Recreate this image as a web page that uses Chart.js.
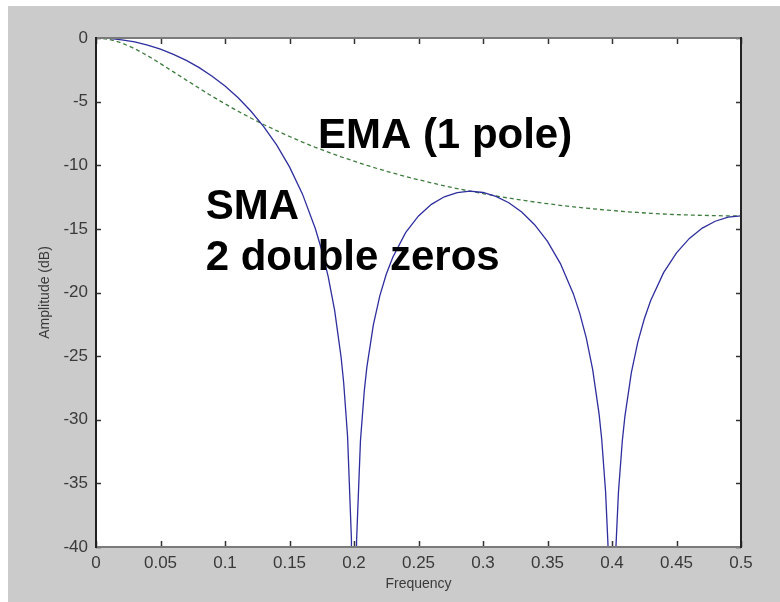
<!DOCTYPE html>
<html>
<head>
<meta charset="utf-8">
<script src="https://cdn.jsdelivr.net/npm/chart.js@4"></script>
<style>
  html, body { margin: 0; padding: 0; background: #fff; }
  canvas { display: block; }
</style>
</head>
<body>
<canvas id="freqChart" width="780" height="602"></canvas>
<script>
// magnitude responses (dB)
const smaFreq = [0, 0.01, 0.02, 0.03, 0.04, 0.05, 0.06, 0.07, 0.08, 0.09, 0.1, 0.11, 0.12, 0.13, 0.14, 0.15, 0.16, 0.17, 0.175, 0.18, 0.185, 0.19, 0.192, 0.195, 0.198, 0.2, 0.202, 0.205, 0.208, 0.21, 0.215, 0.22, 0.225, 0.23, 0.24, 0.25, 0.26, 0.27, 0.28, 0.29, 0.3, 0.31, 0.32, 0.33, 0.34, 0.35, 0.36, 0.37, 0.375, 0.38, 0.385, 0.39, 0.392, 0.395, 0.397, 0.4, 0.403, 0.405, 0.408, 0.41, 0.415, 0.42, 0.425, 0.43, 0.44, 0.45, 0.46, 0.47, 0.48, 0.49, 0.5];
const smaDb = [0, -0.03, -0.14, -0.31, -0.56, -0.88, -1.28, -1.76, -2.33, -3.0, -3.78, -4.68, -5.74, -6.96, -8.4, -10.13, -12.25, -14.97, -16.68, -18.76, -21.41, -25.09, -27.09, -31.28, -39.35, -80, -39.5, -31.66, -27.7, -25.84, -22.54, -20.27, -18.57, -17.25, -15.3, -13.98, -13.07, -12.48, -12.15, -12.04, -12.14, -12.44, -12.95, -13.68, -14.67, -15.99, -17.73, -20.09, -21.64, -23.55, -26.04, -29.56, -31.51, -35.61, -40.06, -80, -40.11, -35.69, -31.65, -29.74, -26.3, -23.9, -22.08, -20.63, -18.44, -16.88, -15.75, -14.94, -14.4, -14.08, -13.98];

const emaFreq = [0, 0.01, 0.02, 0.03, 0.04, 0.05, 0.06, 0.07, 0.08, 0.09, 0.1, 0.11, 0.12, 0.13, 0.14, 0.15, 0.16, 0.17, 0.18, 0.19, 0.2, 0.21, 0.22, 0.23, 0.24, 0.25, 0.26, 0.27, 0.28, 0.29, 0.3, 0.31, 0.32, 0.33, 0.34, 0.35, 0.36, 0.37, 0.38, 0.39, 0.4, 0.41, 0.42, 0.43, 0.44, 0.45, 0.46, 0.47, 0.48, 0.49, 0.5];
const emaDb = [0, -0.1, -0.39, -0.84, -1.39, -2.01, -2.66, -3.31, -3.95, -4.58, -5.17, -5.75, -6.29, -6.8, -7.28, -7.74, -8.18, -8.59, -8.97, -9.34, -9.68, -10.01, -10.32, -10.61, -10.88, -11.14, -11.38, -11.62, -11.83, -12.04, -12.23, -12.41, -12.58, -12.74, -12.89, -13.02, -13.15, -13.27, -13.37, -13.47, -13.56, -13.64, -13.71, -13.78, -13.83, -13.88, -13.91, -13.94, -13.96, -13.98, -13.98];

const xTicks = [0, 0.05, 0.1, 0.15, 0.2, 0.25, 0.3, 0.35, 0.4, 0.45, 0.5];
const xTickLabels = ['0', '0.05', '0.1', '0.15', '0.2', '0.25', '0.3', '0.35', '0.4', '0.45', '0.5'];
const yTicks = [-40, -35, -30, -25, -20, -15, -10, -5, 0];
const yTickLabels = ['-40', '-35', '-30', '-25', '-20', '-15', '-10', '-5', '0'];

// text labels placed in data coordinates: [text, freq, dB]
const notes = [
  ['EMA (1 pole)', 0.172, -8.65],
  ['SMA', 0.085, -14.2],
  ['2 double zeros', 0.085, -18.2]
];

const toPoints = (xs, ys) => xs.map((x, i) => ({ x, y: ys[i] }));

// figure background, frame, inward ticks and text labels (MATLAB look)
const matlabLook = {
  id: 'matlabLook',
  beforeDraw(chart) {
    const { ctx, chartArea: a } = chart;
    ctx.save();
    ctx.fillStyle = '#ffffff';
    ctx.fillRect(0, 0, chart.width, chart.height);
    ctx.fillStyle = '#cbcbcb';
    ctx.fillRect(8, 6, chart.width - 8, chart.height - 6);
    ctx.fillStyle = '#ffffff';
    ctx.fillRect(a.left, a.top, a.right - a.left, a.bottom - a.top);
    ctx.restore();
  },
  afterDraw(chart) {
    const { ctx, chartArea: a, scales } = chart;
    ctx.save();
    // ticks
    ctx.strokeStyle = '#333';
    ctx.lineWidth = 1.5;
    ctx.beginPath();
    xTicks.forEach(v => {
      const px = Math.round(scales.x.getPixelForValue(v)) + 0.5;
      ctx.moveTo(px, a.bottom); ctx.lineTo(px, a.bottom - 6);
      ctx.moveTo(px, a.top); ctx.lineTo(px, a.top + 6);
    });
    yTicks.forEach(v => {
      const py = Math.round(scales.y.getPixelForValue(v)) + 0.5;
      ctx.moveTo(a.left, py); ctx.lineTo(a.left + 5, py);
      ctx.moveTo(a.right, py); ctx.lineTo(a.right - 5, py);
    });
    ctx.stroke();
    // frame
    ctx.lineWidth = 2;
    ctx.strokeStyle = '#7a7a7a';
    ctx.beginPath();
    ctx.moveTo(a.left, a.top); ctx.lineTo(a.right, a.top);
    ctx.moveTo(a.left, a.bottom); ctx.lineTo(a.right, a.bottom);
    ctx.stroke();
    ctx.strokeStyle = '#222';
    ctx.beginPath();
    ctx.moveTo(a.left, a.top - 1); ctx.lineTo(a.left, a.bottom + 1);
    ctx.moveTo(a.right, a.top - 1); ctx.lineTo(a.right, a.bottom + 1);
    ctx.stroke();
    // labels
    ctx.fillStyle = '#000';
    ctx.font = 'bold 42px "Liberation Sans", Arial, sans-serif';
    ctx.textBaseline = 'alphabetic';
    ctx.textAlign = 'left';
    notes.forEach(([t, fx, fy]) => {
      ctx.fillText(t, scales.x.getPixelForValue(fx), scales.y.getPixelForValue(fy));
    });
    ctx.restore();
  }
};

const tickFont = { family: '"Liberation Sans", Arial, sans-serif', size: 17 };
const titleFont = { family: '"Liberation Sans", Arial, sans-serif', size: 14 };

new Chart(document.getElementById('freqChart').getContext('2d'), {
  type: 'line',
  data: {
    datasets: [
      {
        label: 'SMA',
        data: toPoints(smaFreq, smaDb),
        borderColor: '#2e2e9e',
        borderWidth: 1.3,
        pointRadius: 0,
        tension: 0,
        fill: false
      },
      {
        label: 'EMA',
        data: toPoints(emaFreq, emaDb),
        borderColor: '#3f7d3f',
        borderWidth: 1.3,
        borderDash: [4, 3],
        pointRadius: 0,
        tension: 0,
        fill: false
      }
    ]
  },
  options: {
    responsive: false,
    animation: false,
    events: [],
    layout: { padding: { left: 0, right: 39, top: 38, bottom: 0 } },
    plugins: { legend: { display: false }, tooltip: { enabled: false } },
    scales: {
      x: {
        type: 'linear',
        min: 0,
        max: 0.5,
        grid: { display: false, drawTicks: false },
        border: { display: false },
        afterBuildTicks: s => { s.ticks = xTicks.map(v => ({ value: v })); },
        afterFit: s => { s.height = 55; },
        ticks: {
          autoSkip: false,
          maxRotation: 0,
          padding: 6,
          color: '#3a3a3a',
          font: tickFont,
          callback: (v, i) => xTickLabels[i]
        },
        title: { display: true, text: 'Frequency', color: '#3a3a3a', font: titleFont, padding: { top: 0, bottom: 9 } }
      },
      y: {
        type: 'linear',
        min: -40,
        max: 0,
        grid: { display: false, drawTicks: false },
        border: { display: false },
        afterBuildTicks: s => { s.ticks = yTicks.map(v => ({ value: v })); },
        afterFit: s => { s.width = 96; },
        ticks: {
          autoSkip: false,
          padding: 8,
          color: '#3a3a3a',
          font: tickFont,
          callback: (v, i) => yTickLabels[i]
        },
        title: { display: true, text: 'Amplitude (dB)', color: '#3a3a3a', font: titleFont, padding: { top: 37, bottom: 0 } }
      }
    }
  },
  plugins: [matlabLook]
});
</script>
</body>
</html>
